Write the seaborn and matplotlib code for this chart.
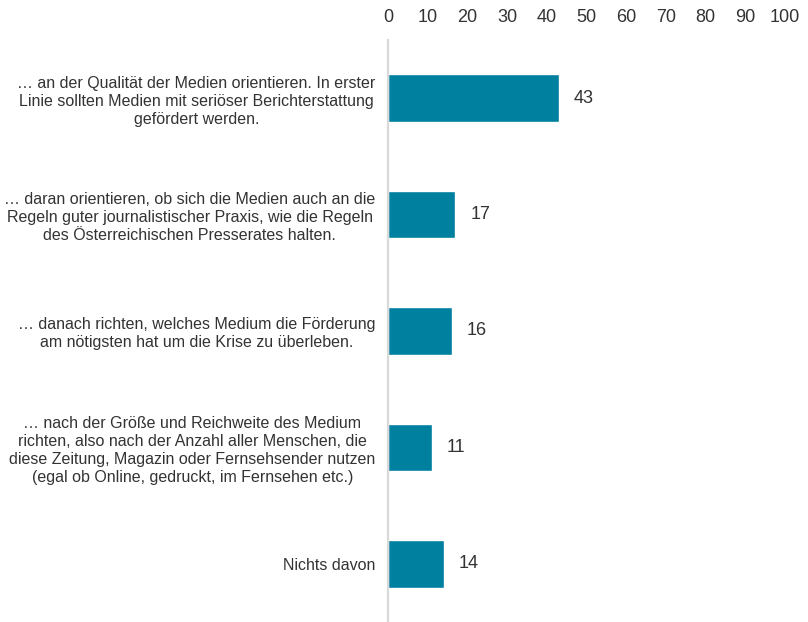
import numpy as np
import pandas as pd
import matplotlib
matplotlib.use("Agg")
import matplotlib.pyplot as plt
import seaborn as sns

sns.set_style("white")
plt.rcParams['font.family'] = ['Liberation Sans', 'DejaVu Sans']

# Daten
df = pd.DataFrame({
    'antwort': [
        "… an der Qualität der Medien orientieren. In erster\nLinie sollten Medien mit seriöser Berichterstattung\ngefördert werden.",
        "… daran orientieren, ob sich die Medien auch an die\nRegeln guter journalistischer Praxis, wie die Regeln\ndes Österreichischen Presserates halten.",
        "… danach richten, welches Medium die Förderung\nam nötigsten hat um die Krise zu überleben.",
        "… nach der Größe und Reichweite des Medium\nrichten, also nach der Anzahl aller Menschen, die\ndiese Zeitung, Magazin oder Fernsehsender nutzen\n(egal ob Online, gedruckt, im Fernsehen etc.)",
        "Nichts davon",
    ],
    'prozent': [43, 17, 16, 11, 14],
})

fig = plt.figure(figsize=(8.08, 6.22), dpi=100)
ax = fig.add_axes([0.4802, 0.0, 0.9715 - 0.4802, 1 - 40 / 622])

sns.barplot(data=df, x='prozent', y='antwort', color='#00809F',
            width=0.41, saturation=1, ax=ax)

for c in ax.containers:
    ax.bar_label(c, padding=11, fontsize=13, color='#333333')

ax.set_xlim(0, 100)
ax.set_ylim(4.5, -0.5)
ax.set_xticks(range(0, 101, 10))
ax.xaxis.tick_top()
ax.tick_params(axis='x', length=0, pad=10, labelsize=13, labelcolor='#333333')
ax.tick_params(axis='y', length=0, pad=9, labelsize=11.5, labelcolor='#333333')
for lab in ax.get_yticklabels():
    lab.set_multialignment('center')
    lab.set_linespacing(1.25)

ax.set_xlabel('')
ax.set_ylabel('')
for side in ['top', 'right', 'bottom']:
    ax.spines[side].set_visible(False)
ax.spines['left'].set_color('#D9D9D9')
ax.spines['left'].set_linewidth(1.6)

plt.savefig('out.png', dpi=100)
plt.close()
